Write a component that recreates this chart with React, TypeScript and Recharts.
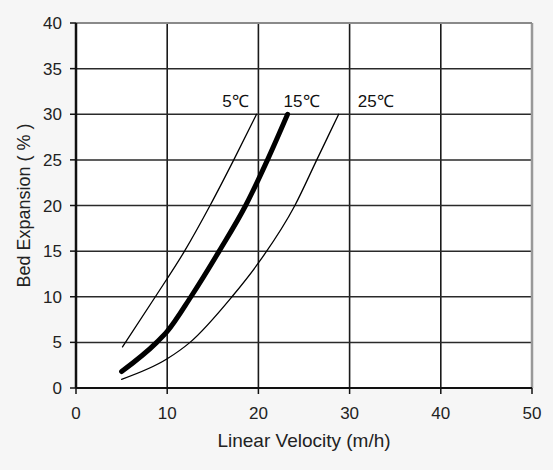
import React from 'react';
import {
  LineChart,
  Line,
  XAxis,
  YAxis,
  CartesianGrid,
  ReferenceLine,
  LabelList,
} from 'recharts';

// values
const xTicks = [0, 10, 20, 30, 40, 50];
const yTicks = [0, 5, 10, 15, 20, 25, 30, 35, 40];
const gridX = [10, 20, 30, 40];
const gridY = [5, 10, 15, 20, 25, 30, 35];

const temp5Velocity = [5.1, 8.7, 11.9, 14.7, 17.3, 19.8];
const temp5Expansion = [4.5, 10, 15, 20, 25, 30];

const temp15Velocity = [5.0, 8.85, 10, 12.6, 15.7, 18.6, 21, 23.2];
const temp15Expansion = [1.8, 5, 6.2, 10, 15, 20, 25, 30];

const temp25Velocity = [5.0, 10, 12.5, 17.1, 20, 24, 26.4, 28.8];
const temp25Expansion = [0.95, 3.2, 5, 10, 13.7, 20, 25, 30];

const seriesNames = ['5℃', '15℃', '25℃'];

function toPoints(xs: number[], ys: number[]) {
  return xs.map((v, i) => ({ velocity: v, expansion: ys[i] }));
}

const seriesData = [
  toPoints(temp5Velocity, temp5Expansion),
  toPoints(temp15Velocity, temp15Expansion),
  toPoints(temp25Velocity, temp25Expansion),
];

// line widths and label offsets (style only)
const lineWidths = [1.3, 5, 1.3];
const labelDx = [-21, 14, 37];

const FONT = '"Liberation Sans", Arial, sans-serif';

function endLabel(name: string, count: number, dx: number) {
  return (props: any) => {
    const { x, y, index } = props;
    if (index !== count - 1) return null;
    return (
      <text
        x={x + dx}
        y={y - 7}
        textAnchor="middle"
        fontSize={17}
        fontFamily={FONT}
        fill="#111"
      >
        {name}
      </text>
    );
  };
}

const YTitle = (props: any) => {
  const { viewBox } = props;
  const cx = viewBox.x + 30;
  const cy = viewBox.y + viewBox.height / 2;
  return (
    <text
      x={cx}
      y={cy}
      textAnchor="middle"
      transform={`rotate(-90, ${cx}, ${cy})`}
      fontSize={18}
      fontFamily={FONT}
      fill="#222"
    >
      Bed Expansion ( % )
    </text>
  );
};

export default function App() {
  return (
    <div
      style={{
        position: 'absolute',
        left: 0,
        top: 0,
        width: 553,
        height: 470,
        background: '#f6f6f6',
      }}
    >
      <LineChart
        width={553}
        height={470}
        margin={{ top: 23, right: 21, left: 0, bottom: 32 }}
      >
        <CartesianGrid fill="#ffffff" stroke="none" />
        {gridX.map((v) => (
          <ReferenceLine key={'gx' + v} x={v} stroke="#1a1a1a" strokeWidth={1.6} />
        ))}
        {gridY.map((v) => (
          <ReferenceLine key={'gy' + v} y={v} stroke="#2a2a2a" strokeWidth={1.5} />
        ))}
        <ReferenceLine x={50} stroke="#999999" strokeWidth={2.5} />
        <ReferenceLine y={40} stroke="#8a8a8a" strokeWidth={2} />
        <XAxis
          type="number"
          dataKey="velocity"
          domain={[0, 50]}
          ticks={xTicks}
          height={50}
          axisLine={{ stroke: '#111', strokeWidth: 2 }}
          tickLine={{ stroke: '#111', strokeWidth: 1.5 }}
          tickSize={6}
          tickMargin={13}
          tick={{ fontSize: 17, fontFamily: FONT, fill: '#222' }}
          allowDataOverflow
          label={{
            value: 'Linear Velocity (m/h)',
            position: 'bottom',
            offset: -4,
            fontSize: 19,
            fontFamily: FONT,
            fill: '#222',
          }}
        />
        <YAxis
          type="number"
          dataKey="expansion"
          domain={[0, 40]}
          ticks={yTicks}
          width={76}
          axisLine={{ stroke: '#111', strokeWidth: 2.5 }}
          tickLine={{ stroke: '#111', strokeWidth: 1.5 }}
          tickSize={6}
          tickMargin={8}
          tick={{ fontSize: 17, fontFamily: FONT, fill: '#222' }}
          allowDataOverflow
          label={<YTitle />}
        />
        {seriesData.map((d, i) => (
          <Line
            key={seriesNames[i]}
            data={d}
            dataKey="expansion"
            type="monotone"
            stroke="#000"
            strokeWidth={lineWidths[i]}
            strokeLinecap="round"
            dot={false}
            activeDot={false}
            isAnimationActive={false}
          >
            <LabelList
              dataKey="expansion"
              content={endLabel(seriesNames[i], d.length, labelDx[i])}
            />
          </Line>
        ))}
      </LineChart>
    </div>
  );
}
